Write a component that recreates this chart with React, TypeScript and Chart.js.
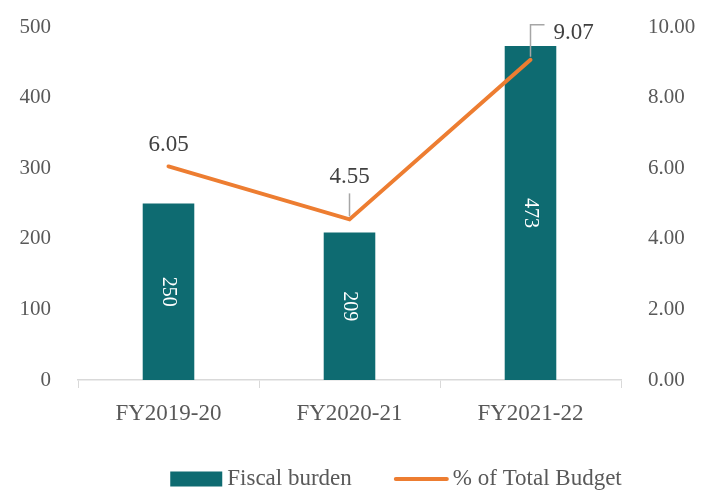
import React, { useEffect, useRef } from "react";
import { Chart, registerables } from "chart.js";

Chart.register(...registerables);

const categories = ["FY2019-20", "FY2020-21", "FY2021-22"];
const fiscalBurden = [250, 209, 473];
const pctOfBudget = [6.05, 4.55, 9.07];
const leftTicks = [0, 100, 200, 300, 400, 500];
const rightTicks = [0, 2, 4, 6, 8, 10];

const TEAL = "#0E6B71";
const ORANGE = "#ED7D31";
const TEXT = "#595959";
const LABEL = "#404040";
const FONT = "'Liberation Serif', 'DejaVu Serif', serif";

const labelsPlugin = {
  id: "valueLabels",
  afterDatasetsDraw(chart: any) {
    const ctx = chart.ctx;
    const barMeta = chart.getDatasetMeta(0);
    ctx.save();
    ctx.fillStyle = "#FFFFFF";
    ctx.font = `20px ${FONT}`;
    ctx.textAlign = "center";
    ctx.textBaseline = "middle";
    barMeta.data.forEach((el: any, i: number) => {
      const cx = el.x;
      const cy = (el.y + el.base) / 2;
      ctx.save();
      ctx.translate(cx, cy);
      ctx.rotate(Math.PI / 2);
      ctx.fillText(String(fiscalBurden[i]), 0, 0);
      ctx.restore();
    });
    ctx.restore();

    const lineMeta = chart.getDatasetMeta(1);
    ctx.save();
    ctx.font = `23px ${FONT}`;
    ctx.fillStyle = LABEL;
    ctx.strokeStyle = "#A6A6A6";
    ctx.lineWidth = 1.5;
    lineMeta.data.forEach((pt: any, i: number) => {
      const txt = pctOfBudget[i].toFixed(2);
      const x = pt.x;
      const y = pt.y;
      if (i === 0) {
        ctx.textAlign = "center";
        ctx.textBaseline = "middle";
        ctx.fillText(txt, x, y - 21);
      } else if (i === 1) {
        ctx.beginPath();
        ctx.moveTo(x, y - 3);
        ctx.lineTo(x, y - 26);
        ctx.stroke();
        ctx.textAlign = "center";
        ctx.textBaseline = "middle";
        ctx.fillText(txt, x, y - 42);
      } else {
        ctx.beginPath();
        ctx.moveTo(x, y - 3);
        ctx.lineTo(x, y - 35);
        ctx.lineTo(x + 14, y - 35);
        ctx.stroke();
        ctx.textAlign = "left";
        ctx.textBaseline = "middle";
        ctx.fillText(txt, x + 23, y - 27);
      }
    });
    ctx.restore();
  },
  afterDraw(chart: any) {
    const ctx = chart.ctx;
    ctx.save();
    ctx.font = `23px ${FONT}`;
    const t1 = chart.data.datasets[0].label;
    const t2 = chart.data.datasets[1].label;
    const w1 = ctx.measureText(t1).width;
    const w2 = ctx.measureText(t2).width;
    const total = 52 + 5 + w1 + 42 + 55 + 4 + w2;
    let x = 396 - total / 2;
    const y = 479;
    ctx.fillStyle = TEAL;
    ctx.fillRect(x, y - 7.5, 52, 15);
    x += 57;
    ctx.fillStyle = TEXT;
    ctx.textAlign = "left";
    ctx.textBaseline = "middle";
    ctx.fillText(t1, x, y);
    x += w1 + 42;
    ctx.strokeStyle = ORANGE;
    ctx.lineWidth = 4;
    ctx.lineCap = "round";
    ctx.beginPath();
    ctx.moveTo(x + 2, y);
    ctx.lineTo(x + 53, y);
    ctx.stroke();
    x += 59;
    ctx.fillText(t2, x, y);
    ctx.restore();
  },
};

export default function App() {
  const ref = useRef<HTMLCanvasElement | null>(null);
  useEffect(() => {
    document.body.style.margin = "0";
    const canvas = ref.current;
    if (!canvas) return;
    const chart = new Chart(canvas, {
      type: "bar",
      data: {
        labels: categories,
        datasets: [
          {
            type: "bar",
            label: "Fiscal burden",
            data: fiscalBurden,
            backgroundColor: TEAL,
            borderWidth: 0,
            yAxisID: "y",
            order: 1,
            categoryPercentage: 1,
            barPercentage: 0.285,
          } as any,
          {
            type: "line",
            label: "% of Total Budget",
            data: pctOfBudget,
            borderColor: ORANGE,
            backgroundColor: ORANGE,
            borderWidth: 4,
            pointRadius: 0,
            borderCapStyle: "round",
            tension: 0,
            yAxisID: "y1",
            order: 0,
          } as any,
        ],
      },
      options: {
        responsive: false,
        animation: false,
        devicePixelRatio: 1,
        layout: { padding: { top: 27, left: 0, right: 0, bottom: 0 } },
        plugins: {
          legend: { display: false },
          tooltip: { enabled: false },
        },
        scales: {
          x: {
            offset: true,
            grid: {
              display: true,
              drawOnChartArea: false,
              drawTicks: true,
              tickLength: 8,
              color: "#D9D9D9",
              offset: true,
            },
            border: { display: true, color: "#D9D9D9", width: 1.5 },
            ticks: {
              color: TEXT,
              font: { family: FONT, size: 23 },
              padding: 12,
              maxRotation: 0,
            },
            afterFit(scale: any) {
              scale.height = 111;
              scale.paddingLeft = 0;
              scale.paddingRight = 0;
            },
          },
          y: {
            position: "left",
            min: 0,
            max: 500,
            afterBuildTicks(scale: any) {
              scale.ticks = leftTicks.map((v) => ({ value: v }));
            },
            grid: { display: false, drawTicks: false },
            border: { display: false },
            ticks: {
              color: TEXT,
              font: { family: FONT, size: 21 },
              padding: 27,
              callback: (v: any) => String(v),
            },
            afterFit(scale: any) {
              scale.width = 78;
              scale.paddingTop = 0;
              scale.paddingBottom = 0;
            },
          },
          y1: {
            position: "right",
            min: 0,
            max: 10,
            afterBuildTicks(scale: any) {
              scale.ticks = rightTicks.map((v) => ({ value: v }));
            },
            grid: { display: false, drawTicks: false },
            border: { display: false },
            ticks: {
              color: TEXT,
              font: { family: FONT, size: 21 },
              padding: 27,
              callback: (v: any) => Number(v).toFixed(2),
            },
            afterFit(scale: any) {
              scale.width = 81;
              scale.paddingTop = 0;
              scale.paddingBottom = 0;
            },
          },
        },
      } as any,
      plugins: [labelsPlugin],
    });
    return () => chart.destroy();
  }, []);
  return (
    <div style={{ width: 702, height: 491, position: "relative" }}>
      <canvas ref={ref} width={702} height={491} style={{ display: "block" }} />
    </div>
  );
}
